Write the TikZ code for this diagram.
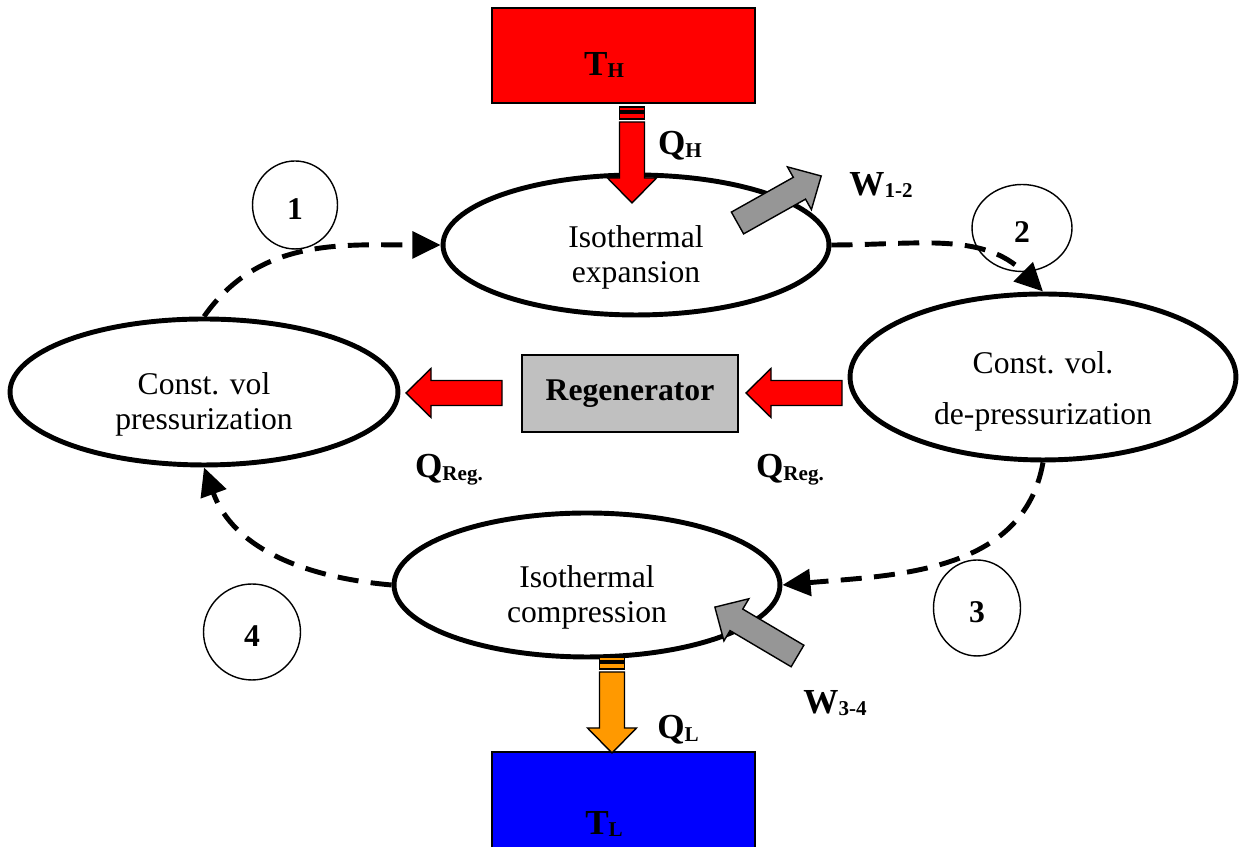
\documentclass[tikz,border=0pt]{standalone}
\usepackage{fontspec}
\setmainfont{Liberation Serif}
\usepackage{xcolor}
\definecolor{hotred}{RGB}{255,0,0}
\definecolor{coldblue}{RGB}{0,0,255}
\definecolor{heatorange}{RGB}{255,153,0}
\definecolor{workgray}{RGB}{150,150,150}
\definecolor{regengray}{RGB}{192,192,192}
\usepackage{tikz}
\usetikzlibrary{arrows.meta,shapes.geometric}

\newcommand{\subtxt}[1]{\raisebox{-1.5pt}{\fontsize{12}{12}\selectfont #1}}

\tikzset{
  process/.style={draw, ellipse, line width=2.8pt, inner sep=0pt},
  proctext/.style={font=\fontsize{18}{20}\selectfont, align=center, yshift=-0.24cm},
  stage/.style={draw, ellipse, line width=0.8pt, inner sep=0pt, text height=17pt, text depth=0pt,
    font=\fontsize{18}{20}\selectfont\bfseries},
  reservoir/.style={draw, line width=1.1pt, minimum width=5.26cm},
  heatlabel/.style={font=\fontsize{20}{22}\selectfont\bfseries},
  flow/.style={line width=2.8pt, dash pattern=on 12pt off 7pt, -{Triangle[length=16pt,width=15pt]}},
  pics/fatarrow/.style={code={
    \draw[pic actions] (0,-12.5) -- (71,-12.5) -- (71,-24.5) -- (96,0) -- (71,24.5) -- (71,12.5) -- (0,12.5) -- cycle;}},
  pics/stripearrow/.style={code={
    \draw[pic actions] (0,-12.5) rectangle (4,12.5);
    \draw[pic actions] (6,-12.5) rectangle (12,12.5);
    \draw[pic actions] (15,-12.5) -- (71,-12.5) -- (71,-24.5) -- (96,0) -- (71,24.5) -- (71,12.5) -- (15,12.5) -- cycle;}}
}

\begin{document}
\begin{tikzpicture}[x=0.02cm, y=0.02cm]
  \useasboundingbox (0,0) rectangle (1241,847);

  % hot and cold reservoirs
  \node (th) [reservoir, fill=hotred, minimum height=1.9cm,
    label={[heatlabel, xshift=-0.39cm, yshift=-0.19cm]center:T\subtxt{H}}] at (623.5,791.5) {};
  \node (tl) [reservoir, fill=coldblue, minimum height=2cm,
    label={[heatlabel, xshift=-0.39cm, yshift=-0.44cm]center:T\subtxt{L}}] at (623.5,45) {};

  % the four processes
  \node (top) [process, minimum width=7.72cm, minimum height=2.8cm,
    label={[proctext]center:Isothermal\\expansion}] at (636,602) {};
  \node (rgt) [process, minimum width=7.72cm, minimum height=3.32cm,
    label={[proctext, yshift=-0.04cm]center:Const. vol.\\[9pt]de-pressurization}] at (1043,470) {};
  \node (bot) [process, minimum width=7.72cm, minimum height=2.88cm,
    label={[proctext]center:Isothermal\\compression}] at (587,262) {};
  \node (lft) [process, minimum width=7.76cm, minimum height=2.92cm,
    label={[proctext]center:Const. vol\\pressurization}] at (204,455) {};

  \node (regen) [draw, fill=regengray, line width=1.1pt, minimum width=4.32cm, minimum height=1.54cm,
    font=\fontsize{18}{20}\selectfont\bfseries] at (630,453.5) {Regenerator};

  % state numbers
  \node (s1) [stage, minimum width=1.7cm, minimum height=1.76cm] at (295,642) {1};
  \node (s2) [stage, minimum width=2cm, minimum height=1.74cm] at (1022,619) {2};
  \node (s3) [stage, minimum width=1.74cm, minimum height=1.92cm] at (977,239) {3};
  \node (s4) [stage, minimum width=1.94cm, minimum height=1.92cm] at (252,215) {4};

  % cycle
  \draw[flow] (lft.north) to[out=55,in=180] (top.west);
  \draw[flow] (top.east) to[out=0,in=135] (rgt.north);
  \draw[flow] (rgt.south) to[out=-100,in=5] (bot.east);
  \draw[flow] (bot.west) to[out=175,in=-70] (lft.south);

  % heat and work
  \pic[fill=hotred, line width=0.8pt, rotate=-90] at (632,740) {stripearrow};
  \pic[fill=heatorange, line width=0.8pt, rotate=-90] at (612,190) {stripearrow};
  \pic[fill=hotred, line width=0.8pt, rotate=180] at (842,454) {fatarrow};
  \pic[fill=hotred, line width=0.8pt, rotate=180] at (502,454) {fatarrow};
  \pic[fill=workgray, line width=0.8pt, rotate=29.3] at (737.5,624) {fatarrow};
  \pic[fill=workgray, line width=0.8pt, rotate=149.4] at (797.5,191) {fatarrow};

  \node (qh) [heatlabel] at (680,701) {Q\subtxt{H}};
  \node (w12) [heatlabel] at (881,662) {W\subtxt{1-2}};
  \node (qreg1) [heatlabel] at (449,377) {Q\subtxt{Reg.}};
  \node (qreg2) [heatlabel] at (790,377) {Q\subtxt{Reg.}};
  \node (w34) [heatlabel] at (835,144) {W\subtxt{3-4}};
  \node (ql) [heatlabel] at (678,117) {Q\subtxt{L}};
\end{tikzpicture}
\end{document}
